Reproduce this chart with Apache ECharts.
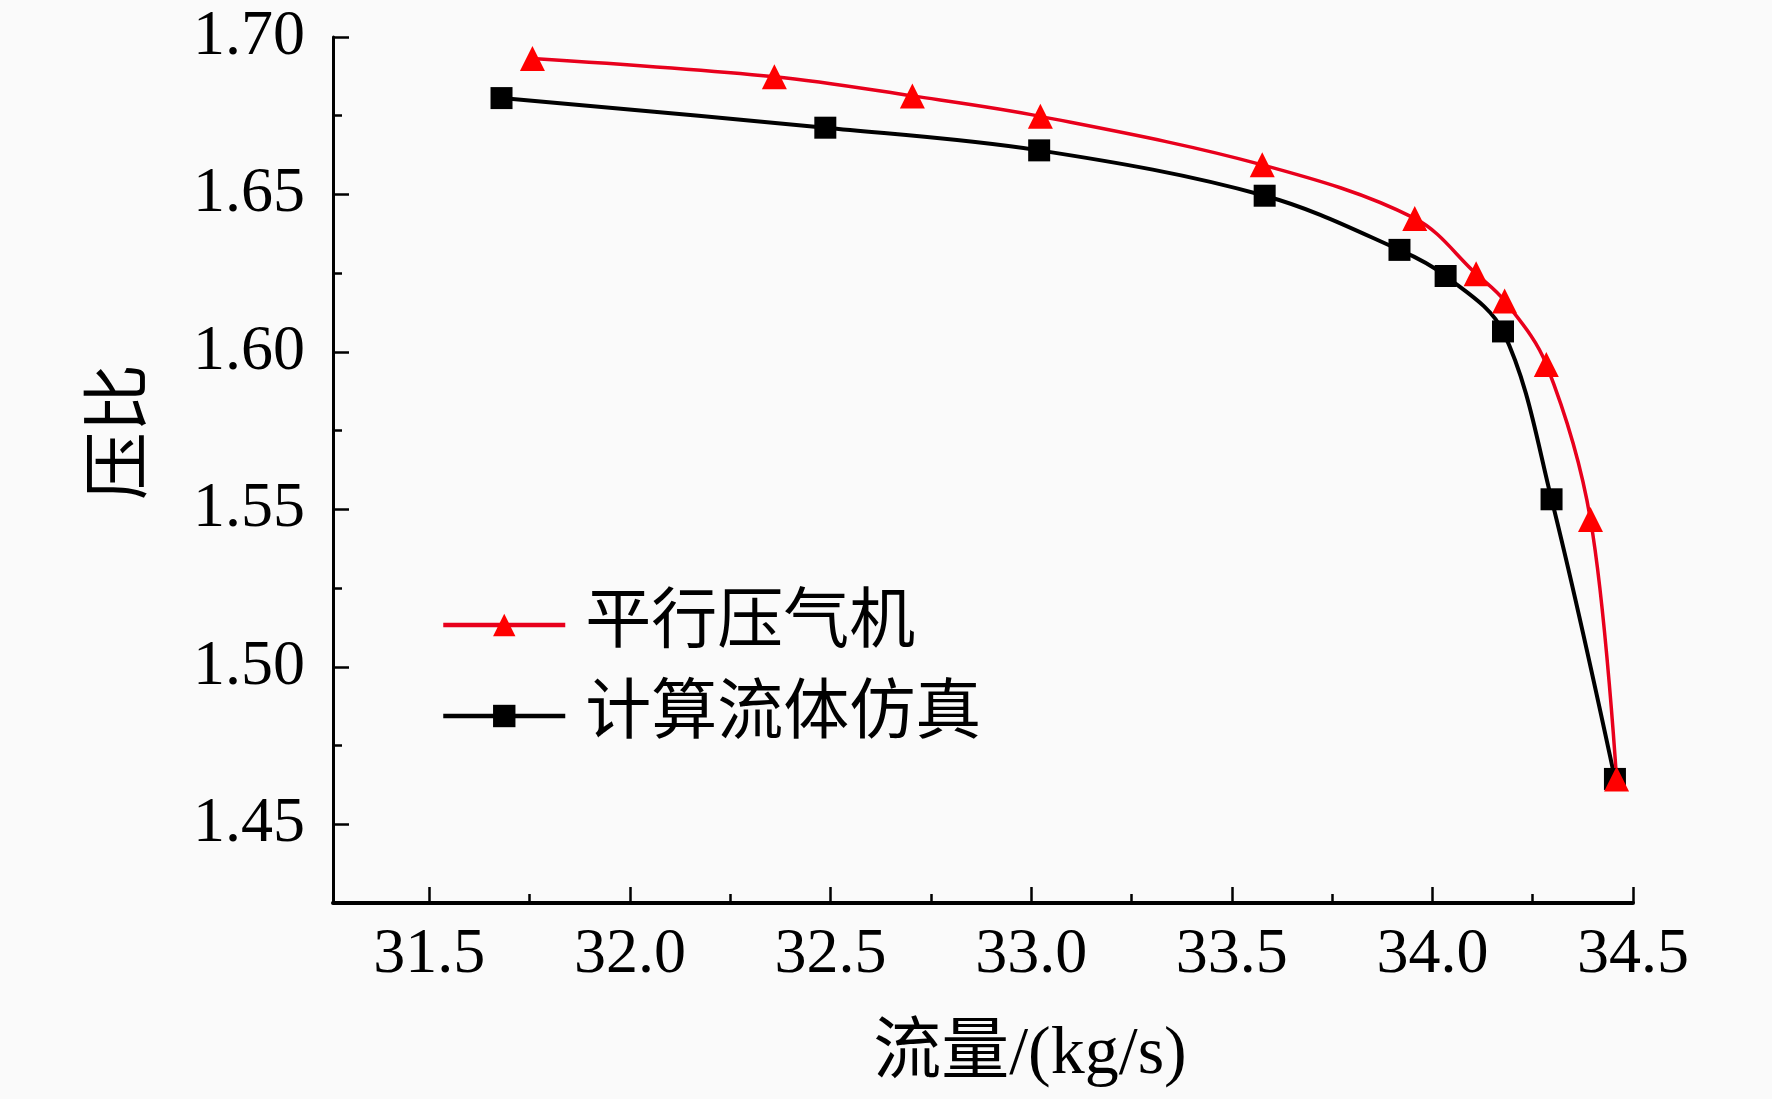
<!DOCTYPE html>
<html>
<head>
<meta charset="utf-8">
<script src="https://cdn.jsdelivr.net/npm/echarts@6/dist/echarts.min.js"></script>
<style>
html, body { margin: 0; padding: 0; background: #fafafa; }
#chart { width: 1772px; height: 1099px; }
</style>
</head>
<body>
<div id="chart"></div>
<script>
// 平行压气机
var parallelFlow = [31.757, 32.360, 32.704, 33.023, 33.576, 33.956, 34.109, 34.180, 34.284, 34.394, 34.459];
var parallelRatio = [1.6932, 1.6874, 1.6813, 1.6748, 1.6594, 1.6424, 1.6248, 1.6162, 1.5960, 1.5468, 1.4644];
// 计算流体仿真
var cfdFlow = [31.680, 32.487, 33.020, 33.582, 33.918, 34.033, 34.176, 34.297, 34.455];
var cfdRatio = [1.6806, 1.6712, 1.6640, 1.6496, 1.6324, 1.6241, 1.6065, 1.5532, 1.4644];

var xMajor = [31.5, 32.0, 32.5, 33.0, 33.5, 34.0, 34.5];
var xMinor = [31.75, 32.25, 32.75, 33.25, 33.75, 34.25];
var yMajor = [1.45, 1.50, 1.55, 1.60, 1.65, 1.70];
var yMinor = [1.475, 1.525, 1.575, 1.625, 1.675];

function pairs(xs, ys) {
    return xs.map(function (x, i) { return [x, ys[i]]; });
}

var FONT = '"Liberation Serif", "Times New Roman", "Noto Sans CJK SC", serif';
var chart = echarts.init(document.getElementById('chart'));

var baseX = {
    type: 'value', min: 31.26, max: 34.5, position: 'bottom',
    splitLine: { show: false }
};
var baseY = {
    type: 'value', min: 1.425, max: 1.70, position: 'left',
    splitLine: { show: false }
};

chart.setOption({
    backgroundColor: '#fafafa',
    animation: false,
    grid: { left: 333, right: 139, top: 37, bottom: 196 },
    legend: {
        orient: 'vertical',
        left: 436, top: 587,
        itemWidth: 122, itemHeight: 28, itemGap: 25,
        data: ['平行压气机', '计算流体仿真'],
        lineStyle: { width: 4.5 },
        textStyle: { fontFamily: FONT, fontSize: 66, color: '#000', padding: [0, 0, 0, 15] }
    },
    xAxis: [
        Object.assign({}, baseX, {
            name: '流量/(kg/s)', nameLocation: 'middle', nameGap: 118,
            nameTextStyle: { fontFamily: FONT, fontSize: 68, color: '#000', padding: [0, 0, 0, 94] },
            axisLine: { lineStyle: { color: '#000', width: 4 } },
            axisTick: { inside: true, length: 16, lineStyle: { width: 2.5, color: '#000' }, customValues: xMajor },
            axisLabel: { fontFamily: FONT, fontSize: 64, color: '#000', margin: 20, customValues: xMajor,
                formatter: function (v) { return v.toFixed(1); } }
        }),
        Object.assign({}, baseX, {
            offset: 0,
            axisLine: { show: false },
            axisTick: { inside: true, length: 9, lineStyle: { width: 2.5, color: '#000' }, customValues: xMinor },
            axisLabel: { show: false }
        })
    ],
    yAxis: [
        Object.assign({}, baseY, {
            name: '压比', nameLocation: 'middle', nameGap: 176, nameRotate: 90,
            nameTextStyle: { fontFamily: FONT, fontSize: 68, color: '#000', padding: [0, 0, 0, 76] },
            axisLine: { lineStyle: { color: '#000', width: 3 } },
            axisTick: { inside: true, length: 16, lineStyle: { width: 2.5, color: '#000' }, customValues: yMajor },
            axisLabel: { fontFamily: FONT, fontSize: 64, color: '#000', margin: 28, customValues: yMajor,
                formatter: function (v) { return v.toFixed(2); } }
        }),
        Object.assign({}, baseY, {
            offset: 0,
            axisLine: { show: false },
            axisTick: { inside: true, length: 9, lineStyle: { width: 2.5, color: '#000' }, customValues: yMinor },
            axisLabel: { show: false }
        })
    ],
    series: [
        {
            name: '计算流体仿真', type: 'line', smooth: 0.35,
            data: pairs(cfdFlow, cfdRatio),
            symbol: 'rect', symbolSize: 22,
            lineStyle: { color: '#000', width: 4 },
            itemStyle: { color: '#000' }
        },
        {
            name: '平行压气机', type: 'line', smooth: 0.35,
            data: pairs(parallelFlow, parallelRatio),
            symbol: 'triangle', symbolSize: 25,
            lineStyle: { color: '#e8001c', width: 3.5 },
            itemStyle: { color: '#ff0000' }
        }
    ]
});
</script>
</body>
</html>
